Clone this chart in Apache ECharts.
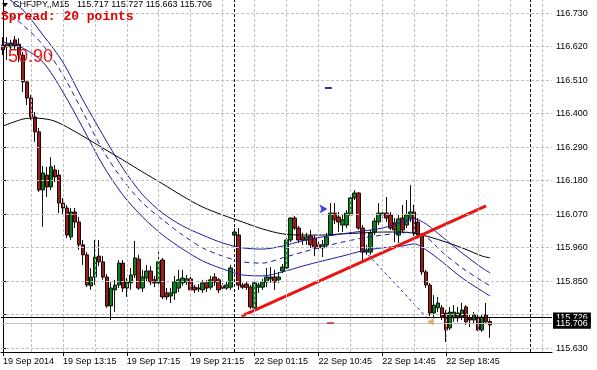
<!DOCTYPE html>
<html><head><meta charset="utf-8">
<script src="https://cdn.jsdelivr.net/npm/echarts@6/dist/echarts.min.js"></script>
<style>html,body{margin:0;padding:0;background:#fff}#c{width:597px;height:370px}</style>
</head><body><div id="c"></div>
<script>
// ---- data ----
const barCount = 138; // slots on the time axis (bars + empty right shift)
// [open, close, low, high]
const candles = [
[116.625,116.609,116.592,116.651],[116.628,116.619,116.576,116.651],[116.619,116.632,116.602,116.642],[116.642,116.622,116.609,116.655],
[116.628,116.592,116.569,116.648],[116.592,116.504,116.471,116.602],[116.504,116.451,116.428,116.510],[116.451,116.389,116.379,116.461],
[116.389,116.340,116.307,116.405],[116.340,116.149,116.143,116.353],[116.149,116.205,116.028,116.228],[116.198,116.159,116.126,116.225],
[116.159,116.225,116.149,116.257],[116.215,116.192,116.175,116.231],[116.198,116.106,116.073,116.215],[116.106,116.090,116.067,116.123],
[116.090,116.001,115.991,116.100],[115.995,116.077,115.985,116.090],[116.077,116.044,116.024,116.090],[116.044,115.969,115.952,116.060],
[115.969,115.936,115.903,115.985],[115.936,115.837,115.830,115.945],[115.834,115.863,115.821,115.893],[115.863,115.929,115.837,115.985],
[115.932,115.913,115.899,115.985],[115.913,115.863,115.854,115.932],[115.863,115.768,115.762,115.873],[115.768,115.827,115.722,115.847],
[115.821,115.837,115.748,115.854],[115.837,115.909,115.827,115.919],[115.909,115.827,115.814,115.919],[115.827,115.847,115.798,115.860],
[115.844,115.870,115.821,115.893],[115.870,115.926,115.860,115.982],[115.922,115.827,115.821,115.936],[115.827,115.863,115.814,115.887],
[115.860,115.883,115.847,115.903],[115.883,115.847,115.837,115.899],[115.854,115.844,115.830,115.867],[115.844,115.913,115.837,115.945],
[115.919,115.798,115.791,115.926],[115.811,115.798,115.788,115.827],[115.801,115.811,115.778,115.827],[115.811,115.847,115.788,115.867],
[115.827,115.854,115.814,115.887],[115.844,115.860,115.834,115.887],[115.847,115.857,115.837,115.870],[115.857,115.821,115.814,115.867],
[115.830,115.821,115.811,115.837],[115.827,115.824,115.814,115.840],[115.821,115.844,115.811,115.854],[115.844,115.827,115.814,115.854],
[115.830,115.854,115.821,115.867],[115.863,115.847,115.834,115.876],[115.854,115.821,115.811,115.860],[115.834,115.827,115.817,115.844],
[115.827,115.837,115.821,115.847],[115.830,115.893,115.821,115.903],[116.001,116.011,115.969,116.024],[116.001,115.837,115.821,116.024],
[115.837,115.830,115.824,115.844],[115.840,115.830,115.821,115.847],[115.830,115.765,115.758,115.837],[115.762,115.844,115.758,115.850],
[115.830,115.837,115.811,115.844],[115.830,115.847,115.821,115.857],[115.847,115.863,115.830,115.893],[115.857,115.863,115.844,115.896],
[115.863,115.847,115.821,115.887],[115.854,115.863,115.844,115.880],[115.883,115.896,115.876,115.906],[115.893,115.985,115.887,115.991],
[115.985,116.057,115.978,116.060],[116.057,116.024,116.018,116.064],[116.024,115.985,115.975,116.031],[115.995,115.985,115.969,116.008],
[115.985,115.995,115.969,116.008],[115.998,115.969,115.959,116.018],[115.991,115.959,115.932,116.001],[115.969,115.962,115.952,115.985],
[115.959,115.969,115.929,115.985],[115.969,115.995,115.959,116.008],[116.001,116.073,115.998,116.106],[116.073,116.051,116.037,116.106],
[116.060,116.044,116.011,116.077],[116.034,116.051,116.011,116.070],[116.034,116.073,116.024,116.083],[116.067,116.123,116.060,116.129],
[116.123,116.139,116.116,116.149],[116.139,116.024,116.018,116.142],[116.024,115.945,115.919,116.034],[115.945,115.952,115.936,115.969],
[115.945,116.008,115.936,116.018],[116.011,116.047,116.001,116.057],[116.044,116.073,116.034,116.106],[116.067,116.073,116.057,116.083],
[116.073,116.057,116.044,116.126],[116.067,116.024,116.018,116.077],[116.041,116.018,115.978,116.057],[116.001,116.054,115.975,116.067],
[116.057,116.018,116.008,116.100],[116.034,116.067,116.024,116.116],[116.057,116.077,116.044,116.165],[116.077,116.008,115.998,116.100],
[116.044,116.001,115.991,116.057],[116.001,115.880,115.870,116.008],[115.880,115.837,115.827,115.887],[115.837,115.745,115.735,115.844],
[115.745,115.771,115.729,115.804],[115.762,115.778,115.748,115.798],[115.762,115.732,115.722,115.771],[115.745,115.689,115.650,115.755],
[115.696,115.748,115.689,115.765],[115.729,115.748,115.716,115.771],[115.745,115.729,115.716,115.765],[115.732,115.755,115.722,115.778],
[115.765,115.716,115.706,115.771],[115.729,115.722,115.699,115.739],[115.722,115.739,115.709,115.748],[115.732,115.689,115.686,115.739],
[115.689,115.732,115.683,115.739],[115.739,115.716,115.709,115.778],[115.717,115.706,115.663,115.727]
];
const bandIdx   = [0,5,10,15,20,25,30,35,40,45,50,55,60,65,70,75,80,85,90,95,100,103,106,110,115,120,122];
const upperVals = [116.789,116.740,116.658,116.569,116.445,116.330,116.221,116.133,116.073,116.031,116.001,115.975,115.959,115.955,115.965,115.982,115.995,116.005,116.014,116.024,116.044,116.054,116.037,115.995,115.942,115.893,115.877];
const midVals   = [116.740,116.691,116.625,116.527,116.405,116.280,116.182,116.106,116.051,116.001,115.959,115.932,115.913,115.909,115.926,115.945,115.962,115.978,115.991,116.001,116.008,116.011,115.995,115.945,115.893,115.850,115.834];
const lowerVals = [116.635,116.615,116.569,116.471,116.353,116.231,116.133,116.060,116.001,115.955,115.916,115.890,115.870,115.867,115.880,115.899,115.916,115.932,115.949,115.959,115.965,115.972,115.952,115.913,115.860,115.817,115.801];
const maIdx  = [0,5,8,12,15,20,25,30,35,40,45,50,55,60,65,70,75,80,85,90,95,100,105,110,115,120,122];
const maVals = [116.359,116.382,116.385,116.379,116.363,116.326,116.287,116.248,116.208,116.169,116.129,116.093,116.067,116.044,116.021,116.005,116.001,116.001,116.005,116.008,116.011,116.011,116.001,115.982,115.959,115.932,115.926];
const trendIdx = [59.75, 121];
const trendVals = [115.735, 116.097];
const tradeIdx = [91.5, 106.5];
const tradeVals = [115.936, 115.725];
const priceTicks = [115.630,115.740,115.850,115.960,116.070,116.180,116.290,116.400,116.510,116.620,116.730];
const priceLabels = [115.630,115.850,115.960,116.070,116.180,116.290,116.400,116.510,116.620,116.730];
const timeLabelIdx = [0,15,31,47,63,79,95,111];
const timeLabels = ['19 Sep 2014','19 Sep 13:15','19 Sep 17:15','19 Sep 21:15','22 Sep 01:15','22 Sep 10:45','22 Sep 14:45','22 Sep 18:45'];
const gridXIdx = [7,15,23,31,39,47,55,63,71,79,87,95,103,111,119,127,135];
const separatorIdx = [58,132];
const askPrice = 115.726, bidPrice = 115.706;
const header = 'CHFJPY,,M15';
const headerPrices = '115.717 115.727 115.663 115.706';
const spreadText = 'Spread: 20 points';
const bigValue = '50.90';
const buyMark = [81.25, 116.087];
const closeMark = [107, 115.716];
const blueDash = [81.5, 116.484];
const redDash = [82, 115.712];

// ---- chart ----
const cats = Array.from({length: barCount}, (_, i) => String(i));
const pairs = (ix, vs) => ix.map((x, k) => [x, vs[k]]);
const FONT = '"Liberation Sans", Arial, sans-serif';
const chart = echarts.init(document.getElementById('c'), null, {renderer: 'canvas'});
const labelMap = {};
timeLabelIdx.forEach((ix, k) => labelMap[ix] = timeLabels[k]);
const gridLine = {color: '#c0c0c0', width: 1, type: [3, 2]};

chart.setOption({
  animation: false,
  backgroundColor: '#fff',
  grid: {left: 0, top: 0, width: 552, height: 352, show: false},
  xAxis: [{
    type: 'category', data: cats, boundaryGap: true,
    axisLine: {lineStyle: {color: '#000', width: 1}},
    axisTick: {show: true, alignWithLabel: true, length: 4, interval: (i) => labelMap[i] !== undefined, lineStyle: {color: '#000'}},
    axisLabel: {interval: (i) => labelMap[i] !== undefined, formatter: (v, i) => labelMap[i] || '', align: 'left', margin: 5,
      color: '#000', fontSize: 9, fontFamily: FONT},
    splitLine: {show: false}
  }, {
    type: 'value', min: -0.5, max: barCount - 0.5, show: false
  }],
  yAxis: {
    type: 'value', position: 'right', min: 115.617, max: 116.773, scale: true,
    axisLine: {show: true, lineStyle: {color: '#000'}},
    axisTick: {show: true, customValues: priceTicks, length: 3, lineStyle: {color: '#000'}},
    axisLabel: {customValues: priceLabels, formatter: (v) => v.toFixed(3), margin: 4, color: '#000', fontSize: 9, fontFamily: FONT},
    splitLine: {show: false}
  },
  graphic: [
    {type: 'polygon', shape: {points: [[2,3],[8,3],[5,7]]}, style: {fill: '#000'}, z: 100},
    {type: 'text', x: 13, y: 0, z: 100, style: {text: header, font: '9px ' + FONT, fill: '#000'}},
    {type: 'text', x: 77, y: 0, z: 100, style: {text: headerPrices, font: '9px ' + FONT, fill: '#000'}},
    {type: 'text', x: 1, y: 10, z: 100, style: {text: spreadText, font: 'bold 13px "Liberation Mono", "Courier New", monospace', fill: '#e00000'}},
    {type: 'text', x: 8, y: 48, z: 100, style: {text: bigValue, font: '18px ' + FONT, fill: '#ee1111'}}
  ],
  series: [
    {
      name: 'grid', type: 'line', xAxisIndex: 1, data: [], z: 0, silent: true,
      markLine: {silent: true, symbol: ['none','none'], animation: false, label: {show: false},
        data: priceTicks.map(v => ({yAxis: v, lineStyle: gridLine}))
          .concat(gridXIdx.map(i => ({xAxis: i, lineStyle: gridLine})))
          .concat(separatorIdx.map(i => ({xAxis: i, lineStyle: {color: '#000', width: 1, type: [3, 2]}})))}
    },
    {
      name: 'price', type: 'candlestick', data: candles, barWidth: 4, z: 2,
      itemStyle: {color: '#127a22', color0: '#9c1c1c', borderColor: '#0a1a0a', borderColor0: '#1a0808', borderWidth: 1}
    },
    {name: 'ma', type: 'line', xAxisIndex: 1, data: pairs(maIdx, maVals), smooth: 0.3, symbol: 'none', z: 3,
      lineStyle: {color: '#000', width: 1}},
    {name: 'upper', type: 'line', xAxisIndex: 1, data: pairs(bandIdx, upperVals), smooth: 0.3, symbol: 'none', z: 3,
      lineStyle: {color: '#1a1aa0', width: 1}},
    {name: 'mid', type: 'line', xAxisIndex: 1, data: pairs(bandIdx, midVals), smooth: 0.3, symbol: 'none', z: 3,
      lineStyle: {color: '#1a1aa0', width: 1, type: [5, 4]}},
    {name: 'lower', type: 'line', xAxisIndex: 1, data: pairs(bandIdx, lowerVals), smooth: 0.3, symbol: 'none', z: 3,
      lineStyle: {color: '#1a1aa0', width: 1}},
    {name: 'trade', type: 'line', xAxisIndex: 1, data: pairs(tradeIdx, tradeVals), symbol: 'none', z: 3,
      lineStyle: {color: '#2020c0', width: 1, type: [3, 3]}},
    {name: 'trend', type: 'line', xAxisIndex: 1, data: pairs(trendIdx, trendVals), symbol: 'none', z: 4,
      lineStyle: {color: '#e81515', width: 3}},
    {name: 'marks', type: 'scatter', xAxisIndex: 1, z: 5, silent: true,
      data: [
        {value: buyMark, symbol: 'arrow', symbolSize: [7, 8], symbolRotate: -90, itemStyle: {color: '#1010e0'}},
        {value: closeMark, symbol: 'triangle', symbolSize: [7, 7], symbolRotate: 90, itemStyle: {color: '#d2a050'}},
        {value: blueDash, symbol: 'rect', symbolSize: [7, 2], itemStyle: {color: '#000080'}},
        {value: redDash, symbol: 'rect', symbolSize: [7, 2], itemStyle: {color: '#c03030'}}
      ]},
    {
      name: 'quotes', type: 'line', xAxisIndex: 1, data: [], z: 6, silent: true,
      markLine: {silent: true, symbol: ['none','none'], animation: false,
        label: {show: true, position: 'end', distance: 1, color: '#fff', backgroundColor: '#000', padding: [1, 3, 0, 3],
          fontSize: 9, fontFamily: FONT},
        data: [
          {yAxis: askPrice, lineStyle: {color: '#000', width: 1, type: 'solid'}, label: {formatter: askPrice.toFixed(3)}},
          {yAxis: bidPrice, lineStyle: {color: '#c0c0c0', width: 1, type: 'solid'}, label: {formatter: bidPrice.toFixed(3)}}
        ]}
    }
  ]
});
</script>
</body></html>
